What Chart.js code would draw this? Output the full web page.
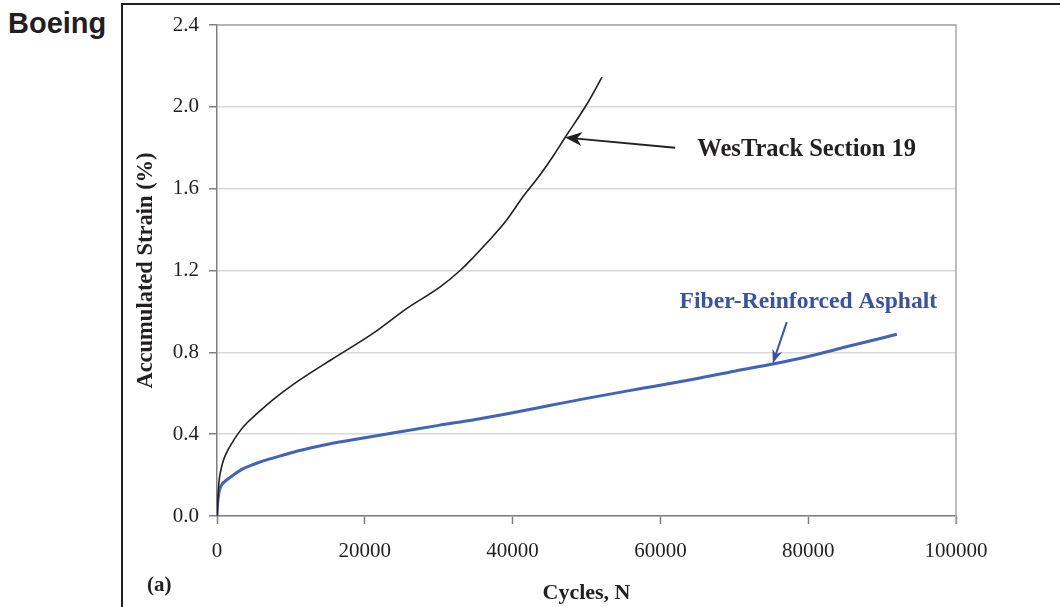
<!DOCTYPE html>
<html>
<head>
<meta charset="utf-8">
<title>Accumulated Strain vs Cycles</title>
<script src="https://cdn.jsdelivr.net/npm/chart.js@4.4.0/dist/chart.umd.min.js"></script>
<style>
  html, body { margin: 0; padding: 0; background: #fff; }
  #wrap { position: relative; width: 1060px; height: 607px; overflow: hidden; }
  #frame { position: absolute; left: 121px; top: 3px; right: -4px; bottom: -4px;
           border-top: 2px solid #231f20; border-left: 2px solid #231f20; }
  #boeing { position: absolute; left: 8px; top: 7px; color: #231f20;
            font: bold 29px "Liberation Sans", Arial, sans-serif; }
  #chartBox { position: absolute; left: 0; top: 0; width: 1060px; height: 607px; }
</style>
</head>
<body>
<div id="wrap">
  <div id="frame"></div>
  <div id="boeing">Boeing</div>
  <div id="chartBox"><canvas id="strainChart"></canvas></div>
</div>
<script>
// WesTrack Section 19 (black) - cycles and accumulated strain (%)
const wtCycles = [0, 100, 250, 500, 850, 1300, 2000, 2900, 4000, 5400, 8100, 11200, 15500,
                  21000, 25700, 30200, 32900, 34700, 36900, 39200, 41400, 43700, 45500, 47100, 50000, 52100];
const wtStrain = [0, 0.07, 0.16, 0.22, 0.27, 0.31, 0.355, 0.405, 0.453, 0.50, 0.583, 0.665, 0.765,
                  0.89, 1.015, 1.12, 1.20, 1.265, 1.35, 1.447, 1.56, 1.667, 1.76, 1.85, 2.01, 2.145];

// Fiber-Reinforced Asphalt (blue)
const fraCycles = [0, 60, 180, 400, 800, 1300, 2200, 3350, 5000, 6700, 9000, 11200, 14500, 18000,
                   24800, 30000, 35000, 40000, 45000, 50000, 57200, 65000, 70000, 75200, 80000, 86000, 92000];
const fraStrain = [0, 0.05, 0.094, 0.135, 0.16, 0.176, 0.20, 0.228, 0.253, 0.274, 0.298, 0.32, 0.347, 0.37,
                   0.412, 0.443, 0.472, 0.505, 0.54, 0.575, 0.622, 0.672, 0.708, 0.743, 0.78, 0.835, 0.888];

const xTicks = [0, 20000, 40000, 60000, 80000, 100000];
const yTicks = [0, 0.4, 0.8, 1.2, 1.6, 2.0, 2.4];

const toPoints = (xs, ys) => xs.map((x, i) => ({ x: x, y: ys[i] }));

const serif = '"Liberation Serif", "Times New Roman", serif';
const ink = '#231f20';
const blueInk = '#3953a4';

function arrow(ctx, x1, y1, x2, y2, color, width, headLen, headW) {
    const ang = Math.atan2(y2 - y1, x2 - x1);
    ctx.save();
    ctx.strokeStyle = color;
    ctx.fillStyle = color;
    ctx.lineWidth = width;
    ctx.beginPath();
    ctx.moveTo(x1, y1);
    ctx.lineTo(x2 - Math.cos(ang) * headLen * 0.7, y2 - Math.sin(ang) * headLen * 0.7);
    ctx.stroke();
    ctx.translate(x2, y2);
    ctx.rotate(ang);
    ctx.beginPath();
    ctx.moveTo(0, 0);
    ctx.lineTo(-headLen, -headW);
    ctx.lineTo(-headLen * 0.7, 0);
    ctx.lineTo(-headLen, headW);
    ctx.closePath();
    ctx.fill();
    ctx.restore();
}

// frame on the top/right of the plot, plus the callouts
const plotDecor = {
    id: 'plotDecor',
    beforeDatasetsDraw(chart) {
        const { ctx, chartArea: a } = chart;
        ctx.save();
        ctx.strokeStyle = '#a6a6a6';
        ctx.lineWidth = 1.5;
        ctx.beginPath();
        ctx.moveTo(a.left, a.top);
        ctx.lineTo(a.right, a.top);
        ctx.lineTo(a.right, a.bottom + 8);
        ctx.stroke();
        ctx.restore();
    },
    afterDatasetsDraw(chart) {
        const { ctx, scales: { x, y } } = chart;
        ctx.save();
        ctx.textBaseline = 'middle';
        ctx.textAlign = 'left';

        ctx.font = 'bold 24.5px ' + serif;
        ctx.fillStyle = ink;
        ctx.fillText('WesTrack Section 19', x.getPixelForValue(65000), y.getPixelForValue(1.79));
        arrow(ctx, x.getPixelForValue(62000), y.getPixelForValue(1.80),
              x.getPixelForValue(47100), y.getPixelForValue(1.85), ink, 2, 17, 7);

        ctx.font = 'bold 23.6px ' + serif;
        ctx.fillStyle = blueInk;
        ctx.fillText('Fiber-Reinforced Asphalt', x.getPixelForValue(62600), y.getPixelForValue(1.046));
        arrow(ctx, x.getPixelForValue(77100), y.getPixelForValue(0.948),
              x.getPixelForValue(75200), y.getPixelForValue(0.745), blueInk, 2, 14, 5);

        ctx.font = 'bold 21px ' + serif;
        ctx.fillStyle = ink;
        ctx.textBaseline = 'alphabetic';
        ctx.fillText('(a)', 147, 591);
        ctx.restore();
    }
};

document.addEventListener('DOMContentLoaded', () => {
    const ctx = document.getElementById('strainChart');
    new Chart(ctx, {
        type: 'scatter',
        data: {
            datasets: [{
                label: 'WesTrack Section 19',
                data: toPoints(wtCycles, wtStrain),
                showLine: true,
                borderColor: ink,
                borderWidth: 1.6,
                pointRadius: 0,
                cubicInterpolationMode: 'monotone'
            }, {
                label: 'Fiber-Reinforced Asphalt',
                data: toPoints(fraCycles, fraStrain),
                showLine: true,
                borderColor: '#4163b8',
                borderWidth: 3,
                pointRadius: 0,
                cubicInterpolationMode: 'monotone'
            }]
        },
        options: {
            responsive: true,
            maintainAspectRatio: false,
            animation: false,
            layout: { padding: { left: 0, top: 25, right: 104, bottom: 0 } },
            plugins: {
                legend: { display: false },
                tooltip: { enabled: false }
            },
            scales: {
                x: {
                    type: 'linear',
                    min: 0,
                    max: 100000,
                    afterFit(s) { s.height = 91; },
                    afterBuildTicks(s) { s.ticks = xTicks.map(v => ({ value: v })); },
                    border: { color: '#7f7f7f', width: 1.5 },
                    grid: { drawOnChartArea: false, drawTicks: true, tickLength: 8, tickColor: '#7f7f7f', tickWidth: 1.5 },
                    ticks: {
                        color: ink,
                        font: { family: serif, size: 21 },
                        padding: 15,
                        maxRotation: 0,
                        callback: v => String(v)
                    },
                    title: {
                        display: true,
                        text: 'Cycles, N',
                        color: ink,
                        font: { family: serif, size: 22, weight: 'bold' },
                        padding: { top: 0, bottom: 0 }
                    }
                },
                y: {
                    min: 0,
                    max: 2.4,
                    afterFit(s) { s.width = 217; },
                    afterBuildTicks(s) { s.ticks = yTicks.map(v => ({ value: v })); },
                    border: { color: '#7f7f7f', width: 1.5 },
                    grid: { color: '#d9d9d9', lineWidth: 1.5, drawTicks: true, tickLength: 8, tickColor: '#7f7f7f', tickWidth: 1.5 },
                    ticks: {
                        color: ink,
                        font: { family: serif, size: 21 },
                        padding: 10,
                        callback: v => v.toFixed(1)
                    },
                    title: {
                        display: true,
                        text: 'Accumulated Strain (%)',
                        color: ink,
                        font: { family: serif, size: 22.5, weight: 'bold' },
                        padding: { top: 133, bottom: 0 }
                    }
                }
            }
        },
        plugins: [plotDecor]
    });
});
</script>
</body>
</html>
